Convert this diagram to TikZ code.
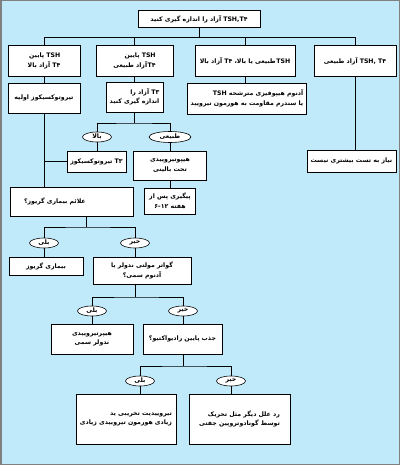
\documentclass[tikz,border=0pt]{standalone}
\usepackage{fontspec}
\setmainfont{DejaVu Sans}
\newfontfamily\arabicfont[Script=Arabic]{DejaVu Sans}
\TeXXeTstate=1
\usetikzlibrary{shapes.geometric}
\definecolor{panelblue}{RGB}{192,234,250}
\newcommand{\fa}[1]{{\arabicfont\bfseries\beginR #1\endR}}
\newcommand{\lat}[1]{\beginL #1\endL{}}

\begin{document}
\begin{tikzpicture}[
  x=1pt, y=-1pt,
  box/.style={draw, fill=white, line width=0.8pt, align=center, inner sep=1pt, font=\fontsize{6.2}{9.5}\selectfont},
  rbox/.style={box, align=right},
  tag/.style={draw, ellipse, fill=white, line width=0.6pt, minimum width=29pt, minimum height=10pt, inner sep=0pt, font=\fontsize{6.2}{7}\selectfont},
  wire/.style={line width=0.8pt}
]
\useasboundingbox (0,0) rectangle (400,465);
\fill[panelblue] (0,0) rectangle (400,465);
\draw[gray, line width=1.5pt] (0.75,0.75) rectangle (399.25,464.25);

% first test and the four results
\node[box, minimum width=122pt, minimum height=17pt] (measure) at (199,19) {\fa{\lat{TSH,T۴} آزاد را اندازه گیری کنید}};
\node[rbox, minimum width=72pt, minimum height=31pt] (lowhigh) at (44,61) {\fa{TSH پایین}\\\fa{T۴ آزاد بالا}};
\node[rbox, minimum width=77pt, minimum height=31pt] (lownorm) at (134.5,61) {\fa{TSH پایین}\\\fa{T۴\kern0.5pt آزاد طبیعی}};
\node[box, minimum width=100pt, minimum height=31pt] (normhigh) at (245,61) {\fa{TSH\kern0.5pt طبیعی یا بالا، T۴ آزاد بالا}};
\node[box, minimum width=82pt, minimum height=31pt] (allnorm) at (355,61) {\fa{\lat{TSH, T۴} آزاد طبیعی}};

\node[box, minimum width=72pt, minimum height=30pt] (primary) at (44,98) {\fa{تیروتوکسیکوز اولیه}};
\node[rbox, minimum width=57pt, minimum height=30pt] (measuret3) at (134.5,97) {\fa{T۳ آزاد را}\\\fa{اندازه گیری کنید}};
\node[rbox, minimum width=119pt, minimum height=31pt] (adenoma) at (247,98.5) {\fa{آدنوم هیپوفیزی مترشحه TSH}\\\fa{یا سندرم مقاومت به هورمون تیرویید}};
\node[box, minimum width=89pt, minimum height=22pt] (nomore) at (351.5,161) {\fa{نیاز به تست بیشتری نیست}};

% free T3
\coordinate (t3split) at (134.5,123);
\node[tag] (high) at (97,137) {\fa{بالا}};
\node[tag, minimum width=42pt, minimum height=11pt] (normal) at (170,137) {\fa{طبیعی}};
\node[box, minimum width=59pt, minimum height=21pt] (t3toxic) at (96.5,161.5) {\fa{T۳ تیروتوکسیکوز}};
\node[box, minimum width=73pt, minimum height=29pt] (subclin) at (170,165.5) {\fa{هیپوتیروییدی}\\\fa{تحت بالینی}};
\node[box, minimum width=51pt, minimum height=26pt] (followup) at (170,201) {\fa{پیگیری پس از}\\\fa{هفته \lat{۶-۱۲}}};

% graves branch
\node[box, align=left, text width=95pt, inner xsep=14pt, minimum height=29pt] (gravessign) at (71.5,201.5) {\fa{علائم بیماری گریوز؟}};
\coordinate (gbus) at (86,227);
\node[tag] (gyes) at (44,243) {\fa{بلی}};
\node[tag] (gno) at (135,243) {\fa{خیر}};
\node[box, minimum width=74pt, minimum height=18pt] (graves) at (46,266) {\fa{بیماری گریوز}};
\node[box, minimum width=98pt, minimum height=27pt] (goiter) at (142,270.5) {\fa{گواتر مولتی ندولر یا}\\\fa{آدنوم سمی؟}};

\coordinate (nbus) at (135,297);
\node[tag] (nyes) at (92,311) {\fa{بلی}};
\node[tag] (nno) at (183,311) {\fa{خیر}};
\node[box, minimum width=82pt, minimum height=30pt] (toxnod) at (92,339) {\fa{هیپرتیروییدی}\\\fa{ندولر سمی}};
\node[box, minimum width=79pt, minimum height=30pt] (uptake) at (182.5,339) {\fa{جذب پایین رادیواکتیو؟}};

\coordinate (ubus) at (183,366);
\node[tag] (uyes) at (140,381) {\fa{بلی}};
\node[tag] (uno) at (231,381) {\fa{خیر}};
\node[rbox, minimum width=100pt, minimum height=50pt] (destruct) at (126,419) {\fa{تیروییدیت تخریبی ید}\\\fa{زیادی هورمون تیروییدی زیادی}};
\node[rbox, minimum width=101pt, minimum height=50pt] (otherc) at (239.5,419) {\fa{رد علل دیگر مثل تحریک}\\\fa{توسط گونادوتروپین جفتی}};

% connectors
\coordinate (topbus) at (199,37);
\draw[wire] (measure) -- (topbus);
\draw[wire] (lowhigh.north) |- (allnorm.north |- topbus) -- (allnorm.north);
\draw[wire] (lownorm.north) -- (lownorm.north |- topbus);
\draw[wire] (normhigh.north) -- (normhigh.north |- topbus);

\draw[wire] (lowhigh) -- (primary);
\draw[wire] (primary.south) -- (primary.south |- gravessign.north);
\draw[wire] (primary.south |- t3toxic.west) -- (t3toxic.west);
\draw[wire] (lownorm) -- (measuret3);
\draw[wire] (measuret3.south) -- (t3split);
\draw[wire] (high) |- (t3split) -| (normal);
\draw[wire] (high) -- (high |- t3toxic.north);
\draw[wire] (normal) -- (subclin);
\draw[wire] (subclin) -- (followup);
\draw[wire] (normhigh.south) -- (normhigh.south |- adenoma.north);
\draw[wire] (allnorm.south) -- (allnorm.south |- nomore.north);

\draw[wire] (gravessign.south -| gbus) -- (gbus);
\draw[wire] (gyes) |- (gbus) -| (gno);
\draw[wire] (gyes) -- (gyes |- graves.north);
\draw[wire] (gno) -- (gno |- goiter.north);
\draw[wire] (goiter.south -| nbus) -- (nbus);
\draw[wire] (nyes) |- (nbus) -| (nno);
\draw[wire] (nyes) -- (toxnod);
\draw[wire] (nno) -- (nno |- uptake.north);
\draw[wire] (uptake.south -| ubus) -- (ubus);
\draw[wire] (uyes) |- (ubus) -| (uno);
\draw[wire] (uyes) -- (uyes |- destruct.north);
\draw[wire] (uno) -- (uno |- otherc.north);
\end{tikzpicture}
\end{document}
